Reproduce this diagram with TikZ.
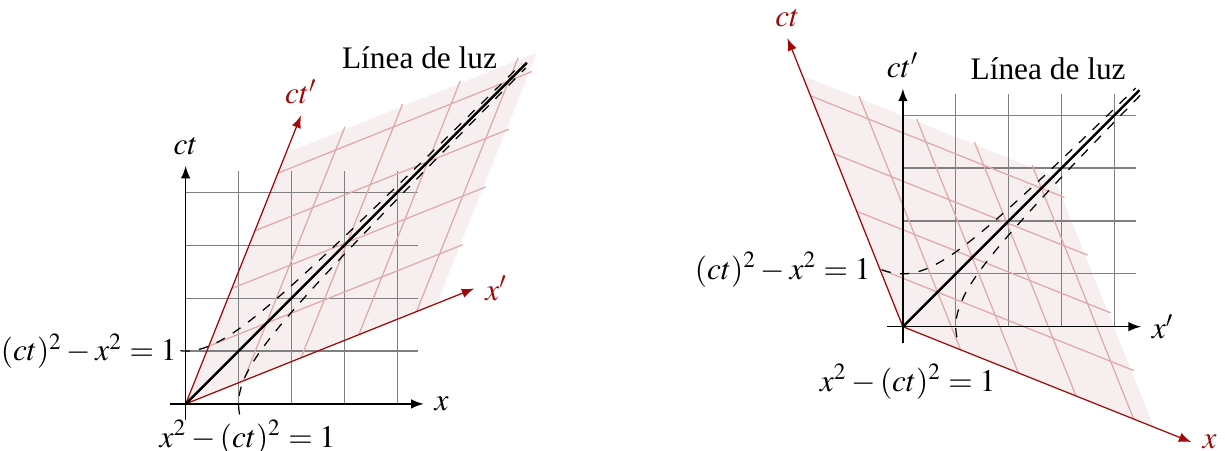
\documentclass[tikz,border=0pt]{standalone}
\usepackage{mathptmx}
\usepackage{fontspec}
\setmainfont{Liberation Serif}
\definecolor{FrameRed}{RGB}{160,10,10}
\definecolor{FrameShade}{RGB}{247,239,239}
\usepackage{tikz}
\usetikzlibrary{positioning,calc,arrows}
\tikzset{>=latex}
\tikzset{
  rest grid/.style={gray, thin},
  frame grid/.style={FrameRed!35, thin},
  frame fill/.style={fill=FrameShade},
  frame axis/.style={FrameRed, thin, ->},
  rest axis/.style={black, thin, ->},
  hyper/.style={black, thin, dashed},
  light line/.style={black, thick},
  boostA/.style={cm={1.0911,0.4364,0.4364,1.0911,(0,0)}},
  boostB/.style={cm={1.0911,-0.4364,-0.4364,1.0911,(0,0)}},
}

\begin{document}
\begin{tikzpicture}[x=0.593cm, y=0.593cm]
  \useasboundingbox (-3.51,-0.888) rectangle (19.65,7.637);
  % sistema en reposo
  \begin{scope}
    \coordinate (oA) at (0,0);
    \begin{scope}[boostA]
      \fill[frame fill] (0,0) rectangle (4.35,4.35);
    \end{scope}
    \foreach \k in {1,...,4}{
      \draw[rest grid] (0,\k) -- (4.4,\k);
      \draw[rest grid] (\k,0) -- (\k,4.4);
    }
    \begin{scope}[boostA]
      \foreach \k in {1,...,4}{
        \draw[frame grid] (0,\k) -- (4.4,\k);
        \draw[frame grid] (\k,0) -- (\k,4.4);
      }
      \coordinate (xpA) at (5,0);
      \coordinate (ctpA) at (0,5);
      \draw[frame axis] (oA) -- (xpA) node[right, FrameRed] (xpAl) {$x'$};
      \draw[frame axis] (oA) -- (ctpA) node[above, FrameRed] (ctpAl) {$ct'$};
    \end{scope}
    \coordinate (xA0) at (-0.3,0);
    \coordinate (xA1) at (4.5,0);
    \coordinate (ctA0) at (0,-0.3);
    \coordinate (ctA1) at (0,4.5);
    \draw[rest axis] (xA0) -- (xA1) node[right] (xAl) {$x$};
    \draw[rest axis] (ctA0) -- (ctA1) node[above] (ctAl) {$ct$};
    \draw[hyper] plot[domain=-0.1:6.35, samples=60, smooth] (\x,{sqrt(1+\x*\x)});
    \draw[hyper] plot[domain=-0.2:6.35, samples=60, smooth] ({sqrt(1+\x*\x)},\x);
    \node[left, inner sep=1pt] (hypA1) at (-0.1,1) {$(ct)^2-x^2=1$};
    \node[anchor=north] (hypA2) at (1.17,-0.1) {$x^2-(ct)^2=1$};
    \coordinate (lzA) at (6.45,6.45);
    \draw[light line] (oA) -- (lzA);
    \node[anchor=east, xshift=-0.21cm, yshift=0.06cm] (luzA) at (lzA) {Línea de luz};
  \end{scope}
  % sistema en movimiento
  \begin{scope}[shift={(13.56,1.46)}]
    \coordinate (oB) at (0,0);
    \begin{scope}[boostB]
      \fill[frame fill] (0,0) rectangle (4.35,4.35);
    \end{scope}
    \foreach \k in {1,...,4}{
      \draw[rest grid] (0,\k) -- (4.4,\k);
      \draw[rest grid] (\k,0) -- (\k,4.4);
    }
    \begin{scope}[boostB]
      \foreach \k in {1,...,4}{
        \draw[frame grid] (0,\k) -- (4.4,\k);
        \draw[frame grid] (\k,0) -- (\k,4.4);
      }
      \coordinate (xB) at (5,0);
      \coordinate (ctB) at (0,5);
      \draw[frame axis] (oB) -- (xB) node[right, FrameRed] (xBl) {$x$};
      \draw[frame axis] (oB) -- (ctB) node[above, FrameRed] (ctBl) {$ct$};
    \end{scope}
    \coordinate (xpB0) at (-0.3,0);
    \coordinate (xpB1) at (4.5,0);
    \coordinate (ctpB0) at (0,-0.3);
    \coordinate (ctpB1) at (0,4.5);
    \draw[rest axis] (xpB0) -- (xpB1) node[right] (xpBl) {$x'$};
    \draw[rest axis] (ctpB0) -- (ctpB1) node[above] (ctpBl) {$ct'$};
    \draw[hyper] plot[domain=-0.4:4.4, samples=50, smooth] (\x,{sqrt(1+\x*\x)});
    \draw[hyper] plot[domain=-0.2:4.4, samples=50, smooth] ({sqrt(1+\x*\x)},\x);
    \node[left] (hypB1) at (-0.4,1.077) {$(ct)^2-x^2=1$};
    \node[anchor=north] (hypB2) at (0.09,-0.5) {$x^2-(ct)^2=1$};
    \coordinate (lzB) at (4.47,4.47);
    \draw[light line] (oB) -- (lzB);
    \node[anchor=east, xshift=-0.03cm, yshift=0.24cm] (luzB) at (lzB) {Línea de luz};
  \end{scope}
\end{tikzpicture}
\end{document}
